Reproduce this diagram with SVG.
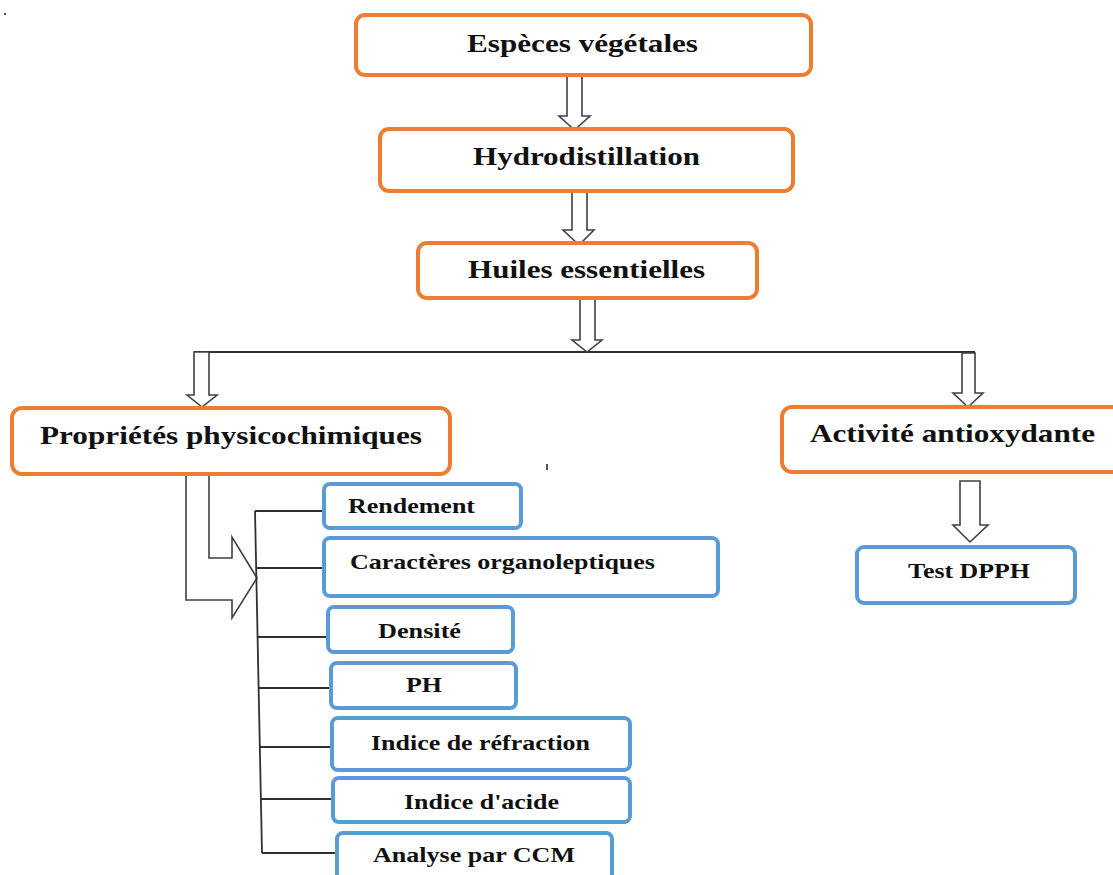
<svg xmlns="http://www.w3.org/2000/svg" width="1113" height="875" viewBox="0 0 1113 875">
  <style>
    .main { fill: #ffffff; stroke: #ED7D31; stroke-width: 4; }
    .sub { fill: #ffffff; stroke: #5B9BD5; stroke-width: 4; }
    .big { font-family: "Liberation Serif", "Times New Roman", serif; font-weight: bold; font-size: 26px; fill: #111111; }
    .small { font-family: "Liberation Serif", "Times New Roman", serif; font-weight: bold; font-size: 22px; fill: #111111; }
    .arrow { fill: #ffffff; stroke: #404040; stroke-width: 1.6; stroke-linejoin: miter; }
    .wire { fill: none; stroke: #303030; stroke-width: 1.8; }
  </style>
  <rect width="1113" height="875" fill="#ffffff"/>

  <!-- connectors -->
  <g id="connectors">
    <line class="wire" x1="194" y1="352" x2="975" y2="352"/>
    <path class="arrow" d="M567,76 V116 H559 L574.5,130 L590,116 H582 V76 Z"/>
    <path class="arrow" d="M572,192 V230 H563 L579,245 L594,230 H587 V192 Z"/>
    <path class="arrow" d="M580,298 V340 H572 L587,352 L602,340 H595 V298 Z"/>
    <path class="arrow" d="M194,352 V395 H187 L202,407 L217,395 H209 V352 Z"/>
    <path class="arrow" d="M962,353 V393 H953 L968,407 L983,393 H975 V353 Z"/>
    <path class="arrow" d="M960,481 V525 H953 L970,542 L988,525 H980 V481 Z"/>
    <!-- bent arrow feeding the property list -->
    <path class="arrow" d="M186,474 V600 H232 V618 L257,578 L232,537 V558 H209 V474 Z"/>
    <!-- list trunk and branches -->
    <line class="wire" x1="255" y1="511" x2="262" y2="853"/>
    <line class="wire" x1="255" y1="511" x2="325" y2="511"/>
    <line class="wire" x1="256" y1="568" x2="325" y2="568"/>
    <line class="wire" x1="258" y1="637" x2="328" y2="637"/>
    <line class="wire" x1="259" y1="688" x2="331" y2="688"/>
    <line class="wire" x1="260" y1="747" x2="332" y2="747"/>
    <line class="wire" x1="261" y1="799" x2="333" y2="799"/>
    <line class="wire" x1="262" y1="853" x2="337" y2="853"/>
  </g>

  <g id="especes">
    <rect class="main" x="356" y="15" width="455" height="60" rx="9"/>
    <text class="big" x="467" y="52" textLength="231" lengthAdjust="spacingAndGlyphs">Espèces végétales</text>
  </g>
  <g id="hydrodistillation">
    <rect class="main" x="380" y="129" width="413" height="62" rx="9"/>
    <text class="big" x="473" y="165" textLength="227" lengthAdjust="spacingAndGlyphs">Hydrodistillation</text>
  </g>
  <g id="huiles">
    <rect class="main" x="418" y="243" width="339" height="55" rx="9"/>
    <text class="big" x="468" y="278" textLength="237" lengthAdjust="spacingAndGlyphs">Huiles essentielles</text>
  </g>
  <g id="proprietes">
    <rect class="main" x="12" y="408" width="438" height="66" rx="10"/>
    <text class="big" x="40" y="444" textLength="382" lengthAdjust="spacingAndGlyphs">Propriétés physicochimiques</text>
  </g>
  <g id="activite">
    <rect class="main" x="782" y="407" width="345" height="65" rx="10"/>
    <text class="big" x="810" y="442" textLength="285" lengthAdjust="spacingAndGlyphs">Activité antioxydante</text>
  </g>

  <g id="rendement">
    <rect class="sub" x="324" y="484" width="197" height="44" rx="6"/>
    <text class="small" x="348" y="513" textLength="127" lengthAdjust="spacingAndGlyphs">Rendement</text>
  </g>
  <g id="caracteres">
    <rect class="sub" x="324" y="538" width="394" height="58" rx="6"/>
    <text class="small" x="350" y="569" textLength="305" lengthAdjust="spacingAndGlyphs">Caractères organoleptiques</text>
  </g>
  <g id="densite">
    <rect class="sub" x="328" y="607" width="185" height="45" rx="6"/>
    <text class="small" x="378" y="638" textLength="83" lengthAdjust="spacingAndGlyphs">Densité</text>
  </g>
  <g id="ph">
    <rect class="sub" x="331" y="663" width="185" height="45" rx="6"/>
    <text class="small" x="406" y="692" textLength="36" lengthAdjust="spacingAndGlyphs">PH</text>
  </g>
  <g id="refraction">
    <rect class="sub" x="332" y="718" width="298" height="52" rx="6"/>
    <text class="small" x="371" y="750" textLength="219" lengthAdjust="spacingAndGlyphs">Indice de réfraction</text>
  </g>
  <g id="acide">
    <rect class="sub" x="333" y="778" width="297" height="44" rx="6"/>
    <text class="small" x="404" y="809" textLength="155" lengthAdjust="spacingAndGlyphs">Indice d'acide</text>
  </g>
  <g id="ccm">
    <rect class="sub" x="337" y="833" width="275" height="60" rx="6"/>
    <text class="small" x="373" y="862" textLength="202" lengthAdjust="spacingAndGlyphs">Analyse par CCM</text>
  </g>
  <g id="dpph">
    <rect class="sub" x="857" y="547" width="218" height="56" rx="7"/>
    <text class="small" x="908" y="578" textLength="122" lengthAdjust="spacingAndGlyphs">Test DPPH</text>
  </g>

  <!-- small stray marks -->
  <rect x="4" y="13" width="2" height="2" fill="#555555"/>
  <rect x="546" y="464" width="2" height="6" fill="#555555"/>
</svg>
